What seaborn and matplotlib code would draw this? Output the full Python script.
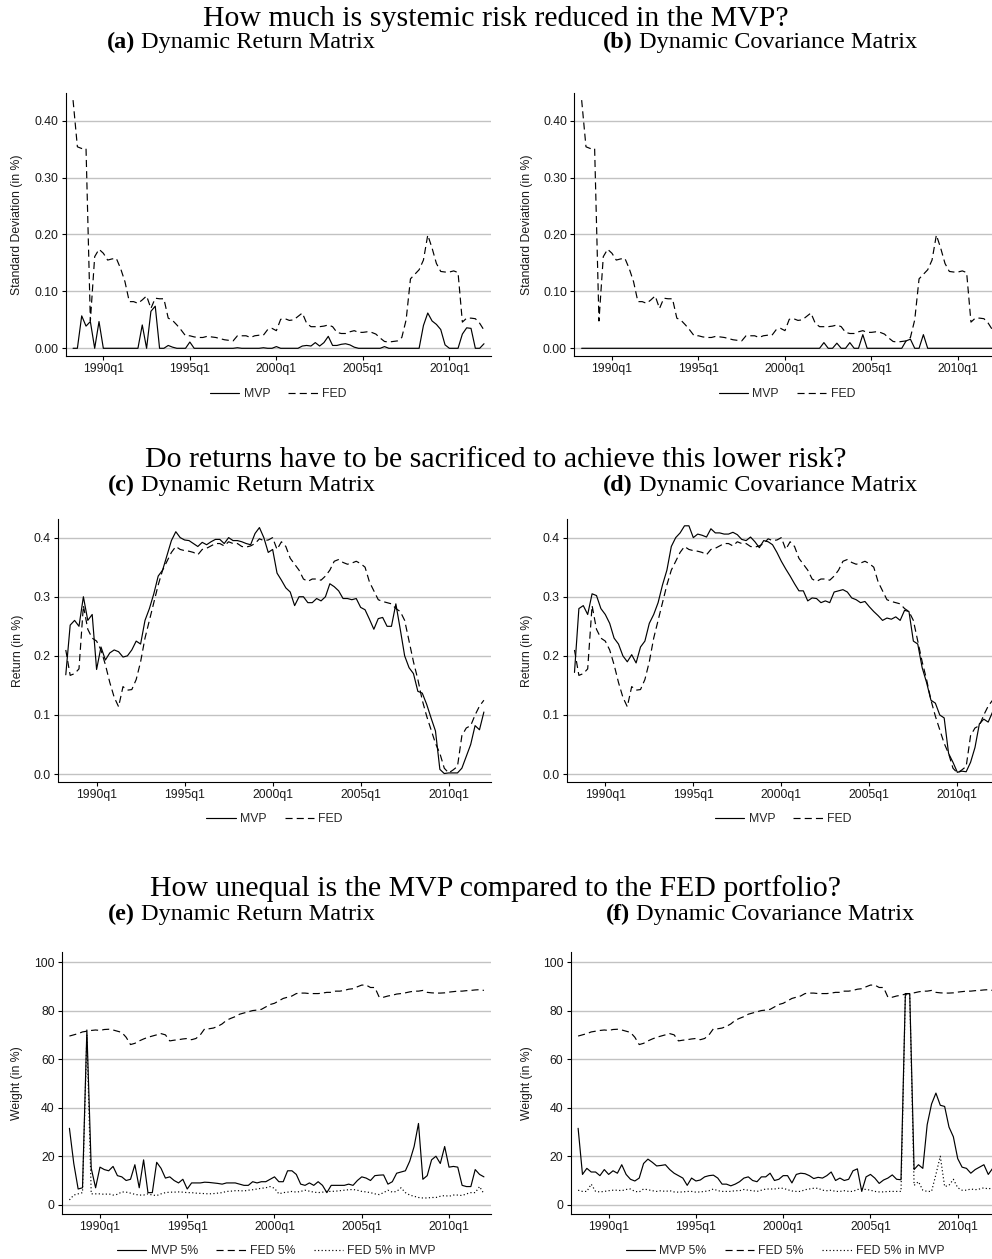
import numpy as np
import pandas as pd
import matplotlib
matplotlib.use("Agg")
import matplotlib.pyplot as plt
from matplotlib.lines import Line2D
from matplotlib.offsetbox import TextArea, HPacker, AnnotationBbox
import seaborn as sns

# ---------------------------------------------------------------- data
quarters = pd.period_range("1988Q2", "2012Q1", freq="Q")
tick_quarters = ["1990Q1", "1995Q1", "2000Q1", "2005Q1", "2010Q1"]

# Standard deviation (in %)
std_mvp_ret = [
    0, 0, 0.057, 0.039, 0.047, 0, 0.047, 0,
    0, 0, 0, 0, 0, 0, 0, 0,
    0.041, 0, 0.065, 0.074, 0, 0, 0.005, 0.002,
    0, 0, 0, 0.011, 0, 0, 0, 0,
    0, 0, 0, 0, 0, 0, 0.001, 0,
    0, 0, 0, 0, 0.001, 0, 0, 0.003,
    0, 0, 0, 0, 0, 0.004, 0.005, 0.004,
    0.010, 0.004, 0.010, 0.021, 0.005, 0.005, 0.007, 0.008,
    0.006, 0.002, 0, 0, 0, 0, 0, 0,
    0.003, 0, 0, 0, 0, 0, 0, 0,
    0, 0.040, 0.062, 0.048, 0.042, 0.033, 0.006, 0,
    0, 0, 0.025, 0.036, 0.035, 0, 0, 0.008,
]
std_mvp_cov = [
    0, 0, 0, 0, 0, 0, 0, 0,
    0, 0, 0, 0, 0, 0, 0, 0,
    0, 0, 0, 0, 0, 0, 0, 0,
    0, 0, 0, 0, 0, 0, 0, 0,
    0, 0, 0, 0, 0, 0, 0, 0,
    0, 0, 0, 0, 0, 0, 0, 0,
    0, 0, 0, 0, 0, 0, 0, 0,
    0.010, 0, 0, 0.009, 0, 0, 0.010, 0,
    0, 0.024, 0, 0, 0, 0, 0, 0,
    0, 0, 0, 0.013, 0.016, 0, 0, 0.024,
    0, 0, 0, 0, 0, 0, 0, 0,
    0, 0, 0, 0, 0, 0, 0, 0,
]
std_fed = [
    0.436, 0.354, 0.351, 0.351, 0.048, 0.161, 0.174, 0.167,
    0.155, 0.157, 0.158, 0.140, 0.117, 0.082, 0.082, 0.079,
    0.085, 0.092, 0.070, 0.088, 0.087, 0.087, 0.053, 0.049,
    0.041, 0.032, 0.022, 0.022, 0.020, 0.019, 0.019, 0.021,
    0.020, 0.019, 0.017, 0.015, 0.014, 0.013, 0.022, 0.022,
    0.022, 0.019, 0.022, 0.023, 0.023, 0.033, 0.035, 0.031,
    0.051, 0.052, 0.049, 0.050, 0.056, 0.062, 0.044, 0.038,
    0.038, 0.038, 0.039, 0.041, 0.038, 0.028, 0.026, 0.026,
    0.029, 0.031, 0.028, 0.028, 0.029, 0.028, 0.025, 0.018,
    0.012, 0.011, 0.012, 0.013, 0.019, 0.050, 0.122, 0.130,
    0.138, 0.155, 0.199, 0.176, 0.149, 0.135, 0.134, 0.134,
    0.136, 0.133, 0.046, 0.053, 0.053, 0.052, 0.044, 0.032,
]

# Return (in %)
ret_mvp_ret = [
    0.168, 0.252, 0.260, 0.250, 0.300, 0.260, 0.270, 0.177,
    0.215, 0.193, 0.205, 0.210, 0.207, 0.198, 0.200, 0.210,
    0.225, 0.220, 0.260, 0.280, 0.305, 0.335, 0.345, 0.370,
    0.395, 0.410, 0.400, 0.396, 0.395, 0.390, 0.385, 0.392,
    0.388, 0.393, 0.397, 0.397, 0.390, 0.400, 0.395, 0.395,
    0.393, 0.390, 0.388, 0.407, 0.417, 0.400, 0.375, 0.380,
    0.340, 0.328, 0.315, 0.308, 0.285, 0.300, 0.300, 0.290,
    0.290, 0.297, 0.293, 0.300, 0.322, 0.317, 0.310, 0.297,
    0.297, 0.295, 0.297, 0.282, 0.278, 0.262, 0.245, 0.263,
    0.265, 0.250, 0.250, 0.288, 0.245, 0.200, 0.180, 0.170,
    0.140, 0.137, 0.118, 0.095, 0.073, 0.008, 0.001, 0.002,
    0.002, 0.002, 0.010, 0.030, 0.050, 0.082, 0.075, 0.105,
]
ret_mvp_cov = [
    0.172, 0.280, 0.285, 0.270, 0.305, 0.302, 0.280, 0.270,
    0.255, 0.230, 0.220, 0.200, 0.190, 0.202, 0.188, 0.215,
    0.225, 0.255, 0.270, 0.290, 0.320, 0.345, 0.385, 0.400,
    0.408, 0.420, 0.420, 0.400, 0.406, 0.404, 0.401, 0.415,
    0.408, 0.408, 0.406, 0.406, 0.409, 0.405, 0.397, 0.395,
    0.401, 0.393, 0.383, 0.395, 0.393, 0.388, 0.375, 0.360,
    0.347, 0.335, 0.322, 0.310, 0.310, 0.293, 0.298, 0.297,
    0.290, 0.293, 0.290, 0.308, 0.310, 0.312, 0.308, 0.298,
    0.295, 0.290, 0.292, 0.283, 0.275, 0.268, 0.260, 0.264,
    0.262, 0.266, 0.260, 0.277, 0.275, 0.225, 0.220, 0.180,
    0.155, 0.125, 0.120, 0.100, 0.095, 0.035, 0.020, 0.003,
    0.005, 0.004, 0.020, 0.045, 0.085, 0.093, 0.088, 0.105,
]
ret_fed = [
    0.210, 0.167, 0.170, 0.178, 0.285, 0.245, 0.230, 0.225,
    0.210, 0.185, 0.155, 0.130, 0.114, 0.148, 0.142, 0.143,
    0.160, 0.190, 0.230, 0.260, 0.290, 0.320, 0.345, 0.360,
    0.375, 0.385, 0.380, 0.378, 0.377, 0.375, 0.371, 0.380,
    0.382, 0.386, 0.390, 0.390, 0.386, 0.393, 0.390, 0.390,
    0.385, 0.384, 0.386, 0.390, 0.398, 0.395, 0.396, 0.400,
    0.380, 0.393, 0.385, 0.365, 0.355, 0.345, 0.330, 0.326,
    0.330, 0.330, 0.328, 0.335, 0.345, 0.360, 0.363, 0.358,
    0.355, 0.357, 0.360, 0.356, 0.350, 0.325, 0.310, 0.295,
    0.292, 0.290, 0.288, 0.280, 0.275, 0.260, 0.225, 0.190,
    0.160, 0.125, 0.098, 0.075, 0.052, 0.035, 0.010, 0.002,
    0.007, 0.013, 0.065, 0.078, 0.082, 0.100, 0.115, 0.125,
]

# Weight of the largest 5% of banks (in %)
w_fed = [
    69.5, 70.0, 70.5, 71.2, 71.5, 71.8, 72.0, 71.8,
    72.2, 72.3, 72.0, 71.5, 71.0, 69.0, 66.0, 66.5,
    67.5, 68.3, 69.0, 69.5, 70.0, 70.5, 70.0, 67.5,
    67.8, 68.0, 68.3, 68.5, 68.0, 68.5, 70.0, 72.5,
    72.5, 72.8, 73.5, 74.5, 76.0, 76.8, 77.5, 78.5,
    79.0, 79.5, 80.0, 80.2, 80.5, 81.5, 82.5, 83.0,
    84.0, 85.0, 85.5, 86.0, 87.0, 87.2, 87.2, 87.0,
    87.0, 87.0, 87.2, 87.5, 87.5, 88.0, 88.0, 88.3,
    88.8, 89.0, 89.8, 90.5, 90.5, 89.5, 89.5, 85.5,
    85.5, 86.0, 86.3, 86.8, 87.0, 87.3, 87.7, 88.0,
    88.0, 88.3, 87.5, 87.3, 87.2, 87.2, 87.3, 87.6,
    87.8, 88.0, 88.0, 88.2, 88.3, 88.5, 88.6, 88.3,
]
w_mvp_ret = [
    31.5, 17.0, 6.5, 7.0, 72.0, 15.0, 7.0, 15.5,
    14.5, 14.0, 15.8, 12.0, 11.5, 10.0, 10.5, 16.5,
    7.0, 18.5, 5.0, 5.0, 17.5, 15.0, 11.0, 11.5,
    10.0, 9.0, 10.5, 6.5, 9.0, 9.0, 9.0, 9.3,
    9.2, 9.0, 8.8, 8.5, 9.0, 9.0, 9.0, 8.5,
    8.0, 8.0, 9.5, 9.0, 9.5, 9.5, 10.5, 11.5,
    9.5, 9.5, 14.0, 14.0, 12.5, 8.5, 8.0, 9.0,
    8.0, 9.5, 8.0, 5.0, 8.0, 8.0, 8.0, 8.0,
    8.5, 8.0, 10.0, 11.5, 11.0, 10.0, 12.0, 12.2,
    12.3, 8.5, 9.5, 13.0, 13.5, 14.0, 18.0, 24.0,
    33.5, 10.5, 12.0, 18.5, 20.0, 17.0, 24.0, 15.5,
    15.8, 15.5, 8.0, 7.5, 7.5, 14.5, 12.5, 11.5,
]
w_fed_in_mvp_ret = [
    2.0, 4.0, 4.5, 5.0, 70.0, 4.5, 4.5, 4.5,
    4.3, 4.5, 4.0, 4.3, 5.3, 5.2, 4.8, 4.3,
    4.0, 4.0, 4.5, 4.0, 3.8, 4.5, 5.0, 5.2,
    5.2, 5.3, 5.2, 5.0, 5.0, 4.8, 4.7, 4.6,
    4.5, 4.6, 4.8, 5.0, 5.5, 5.6, 5.8, 5.8,
    5.7, 6.0, 6.2, 6.5, 6.8, 7.0, 7.5, 6.8,
    4.5, 5.0, 5.2, 5.5, 5.2, 5.5, 6.0, 5.6,
    5.2, 5.0, 5.2, 5.5, 5.5, 5.6, 5.8, 6.0,
    6.2, 6.3, 6.0, 5.5, 5.3, 5.0, 4.5, 4.2,
    5.0, 6.0, 5.2, 5.5, 7.0, 5.0, 4.0, 3.5,
    3.0, 2.8, 2.8, 3.0, 3.0, 3.5, 3.8, 3.5,
    4.0, 4.0, 3.8, 4.5, 5.0, 5.0, 7.5, 4.5,
]
w_mvp_cov = [
    31.5, 12.5, 15.0, 13.5, 13.5, 12.0, 14.5, 12.5,
    14.0, 13.0, 16.5, 12.5, 10.5, 9.8, 11.0, 17.0,
    18.8, 17.5, 16.0, 16.2, 16.5, 14.5, 13.0, 12.0,
    11.0, 8.0, 11.0, 9.8, 10.2, 11.5, 12.0, 12.2,
    11.0, 8.5, 8.5, 7.8, 8.5, 9.5, 11.0, 11.5,
    10.0, 9.5, 11.5, 11.5, 13.0, 10.0, 10.5, 12.0,
    12.0, 9.0, 12.5, 13.0, 12.8, 12.0, 10.8, 11.3,
    11.0, 12.0, 13.5, 10.0, 11.0, 10.0, 10.5, 14.0,
    14.8, 5.5, 11.5, 12.5, 11.0, 8.8, 10.2, 11.0,
    12.3, 10.5, 10.3, 87.0, 87.0, 14.5, 16.5, 15.0,
    33.0, 41.5, 46.0, 41.0, 40.5, 32.0, 28.0, 19.0,
    15.5, 15.0, 13.0, 14.5, 15.5, 16.5, 12.5, 15.0,
]
w_fed_in_mvp_cov = [
    6.0, 5.5, 5.5, 8.5, 5.5, 5.3, 5.5, 5.8,
    6.0, 6.0, 5.8, 6.3, 6.5, 5.5, 5.3, 6.5,
    6.2, 5.8, 5.5, 5.8, 5.5, 5.8, 5.3, 5.2,
    5.3, 5.5, 5.5, 5.2, 5.3, 5.5, 5.8, 6.5,
    5.8, 5.5, 5.5, 5.5, 5.8, 5.8, 6.3, 6.0,
    5.8, 5.5, 6.0, 6.5, 6.5, 6.5, 6.8, 6.8,
    6.2, 5.7, 5.5, 5.5, 6.2, 6.5, 6.8, 6.8,
    6.0, 5.8, 6.0, 5.5, 5.5, 5.8, 5.5, 5.5,
    6.3, 6.5, 6.3, 6.0, 5.5, 5.3, 5.3, 5.5,
    5.5, 5.5, 5.5, 86.5, 86.5, 8.0, 9.5, 6.0,
    5.5, 5.5, 12.5, 20.0, 7.5, 8.0, 10.5, 7.0,
    6.0, 6.0, 6.5, 6.2, 6.5, 7.0, 6.5, 7.0,
]

row_titles = [
    "How much is systemic risk reduced in the MVP?",
    "Do returns have to be sacrificed to achieve this lower risk?",
    "How unequal is the MVP compared to the FED portfolio?",
]
panel_tags = ["(a)", "(b)", "(c)", "(d)", "(e)", "(f)"]
panel_names = ["Dynamic Return Matrix", "Dynamic Covariance Matrix"]

# ---------------------------------------------------------------- style
sns.set_theme(style="white")
plt.rcParams["font.family"] = ["Liberation Sans", "DejaVu Sans"]
plt.rcParams["axes.linewidth"] = 0.8
SERIF = ["Liberation Serif", "DejaVu Serif"]
TICK_FS = 8.8
TITLE_FS = 21.5
SUB_FS = 17.5

W, H = 992, 1259
fig = plt.figure(figsize=(W / 100, H / 100), dpi=100)
fig.patch.set_facecolor("white")

x = np.arange(len(quarters))
qlabels = [f"{p.year}q{p.quarter}" for p in quarters]
tick_pos = [qlabels.index(t.replace("Q", "q")) for t in tick_quarters]
tick_lab = [qlabels[i] for i in tick_pos]

DASHES = {"solid": "", "dash": (6, 3.5), "dot": (1, 2)}
LS = {"solid": "-", "dash": (0, (6, 3.5)), "dot": (0, (1, 2))}


def px_rect(left, top, width, bottom):
    return [left / W, 1 - bottom / H, width / W, (bottom - top) / H]


def draw_panel(rect, series, ylim, yticks, yfmt, ylabel, ylabel_x, legend_y):
    ax = fig.add_axes(rect)
    names = [s[0] for s in series]
    df = pd.DataFrame({
        "t": np.tile(x, len(series)),
        "value": np.concatenate([np.asarray(s[1], dtype=float) for s in series]),
        "series": np.repeat(names, len(x)),
    })
    sns.lineplot(data=df, x="t", y="value", style="series", style_order=names,
                 dashes={s[0]: DASHES[s[2]] for s in series}, color="black",
                 linewidth=0.85, errorbar=None, legend=False, ax=ax)
    ax.set_xlim(-1.7, 96.55)
    ax.set_ylim(*ylim)
    ax.set_yticks(yticks)
    ax.set_yticklabels([yfmt.format(v) for v in yticks])
    ax.set_xticks(tick_pos)
    ax.set_xticklabels(tick_lab)
    ax.set_xlabel("")
    ax.set_ylabel("")
    ax.yaxis.grid(True, color="#c2c2c2", linewidth=1.0)
    ax.xaxis.grid(False)
    ax.set_axisbelow(True)
    sns.despine(ax=ax)
    for sp in ("left", "bottom"):
        ax.spines[sp].set_color("black")
        ax.spines[sp].set_linewidth(0.8)
    ax.tick_params(axis="both", which="major", direction="out", length=3,
                   width=0.8, color="black", labelsize=TICK_FS,
                   labelcolor="#1a1a1a", pad=2.3, left=True, bottom=True)
    top_px = (1 - rect[1] - rect[3]) * H
    bot_px = (1 - rect[1]) * H
    fig.text(ylabel_x / W, 1 - ((top_px + bot_px) / 2) / H,
             ylabel, rotation=90, ha="center", va="center",
             fontsize=TICK_FS, color="#1a1a1a")
    handles = [Line2D([], [], color="black", linewidth=0.85, linestyle=LS[s[2]])
               for s in series]
    cx = rect[0] + rect[2] / 2
    ax.legend(handles, names, loc="center", bbox_to_anchor=(cx, 1 - legend_y / H),
              bbox_transform=fig.transFigure, ncol=len(series), frameon=False,
              fontsize=TICK_FS, handlelength=2.4, handletextpad=0.35,
              columnspacing=1.5, borderpad=0, borderaxespad=0)
    return ax


def subtitle(cx, cy, tag, name, size=SUB_FS):
    box = HPacker(children=[
        TextArea(tag, textprops=dict(family=SERIF, fontsize=size, fontweight="bold", color="black")),
        TextArea(name, textprops=dict(family=SERIF, fontsize=size, color="black")),
    ], align="baseline", pad=0, sep=4.5)
    ab = AnnotationBbox(box, (cx / W, 1 - cy / H), xycoords="figure fraction",
                        box_alignment=(0.5, 0.5), frameon=False, pad=0)
    fig.add_artist(ab)


# rows: title y, subtitle y, axes top/bottom, legend y, panel lefts and width (pixels)
rows = [
    dict(ty=18.5, sy=42, top=93.3, bot=355.7, leg=394, lefts=(65.7, 574.3), width=425.0),
    dict(ty=460, sy=485, top=519.3, bot=781.5, leg=819, lefts=(58.3, 567.0), width=432.4),
    dict(ty=888.5, sy=914, top=952.3, bot=1214.0, leg=1251.5, lefts=(62.0, 570.7), width=428.7),
]

for r, row in enumerate(rows):
    fig.text(0.5, 1 - row["ty"] / H, row_titles[r], ha="center", va="center",
             family=SERIF, fontsize=TITLE_FS, color="black")
    subtitle(241, row["sy"], panel_tags[2 * r], panel_names[0])
    subtitle(760, row["sy"], panel_tags[2 * r + 1], panel_names[1])

# Row 1: standard deviation
rect = px_rect(rows[0]["lefts"][0], rows[0]["top"], rows[0]["width"], rows[0]["bot"])
draw_panel(rect, [("MVP", std_mvp_ret, "solid"), ("FED", std_fed, "dash")],
           (-0.013, 0.448), [0.0, 0.1, 0.2, 0.3, 0.4], "{:.2f}",
           "Standard Deviation (in %)", 17, rows[0]["leg"])
rect = px_rect(rows[0]["lefts"][1], rows[0]["top"], rows[0]["width"], rows[0]["bot"])
draw_panel(rect, [("MVP", std_mvp_cov, "solid"), ("FED", std_fed, "dash")],
           (-0.013, 0.448), [0.0, 0.1, 0.2, 0.3, 0.4], "{:.2f}",
           "Standard Deviation (in %)", 527, rows[0]["leg"])

# Row 2: returns
rect = px_rect(rows[1]["lefts"][0], rows[1]["top"], rows[1]["width"], rows[1]["bot"])
draw_panel(rect, [("MVP", ret_mvp_ret, "solid"), ("FED", ret_fed, "dash")],
           (-0.0125, 0.431), [0.0, 0.1, 0.2, 0.3, 0.4], "{:.1f}",
           "Return (in %)", 17.5, rows[1]["leg"])
rect = px_rect(rows[1]["lefts"][1], rows[1]["top"], rows[1]["width"], rows[1]["bot"])
draw_panel(rect, [("MVP", ret_mvp_cov, "solid"), ("FED", ret_fed, "dash")],
           (-0.0125, 0.431), [0.0, 0.1, 0.2, 0.3, 0.4], "{:.1f}",
           "Return (in %)", 527, rows[1]["leg"])

# Row 3: weights
rect = px_rect(rows[2]["lefts"][0], rows[2]["top"], rows[2]["width"], rows[2]["bot"])
draw_panel(rect, [("MVP 5%", w_mvp_ret, "solid"), ("FED 5%", w_fed, "dash"),
                  ("FED 5% in MVP", w_fed_in_mvp_ret, "dot")],
           (-3.8, 104), [0, 20, 40, 60, 80, 100], "{:.0f}",
           "Weight (in %)", 17.3, rows[2]["leg"])
rect = px_rect(rows[2]["lefts"][1], rows[2]["top"], rows[2]["width"], rows[2]["bot"])
draw_panel(rect, [("MVP 5%", w_mvp_cov, "solid"), ("FED 5%", w_fed, "dash"),
                  ("FED 5% in MVP", w_fed_in_mvp_cov, "dot")],
           (-3.8, 104), [0, 20, 40, 60, 80, 100], "{:.0f}",
           "Weight (in %)", 527, rows[2]["leg"])

fig.savefig("out.png", dpi=100, facecolor="white")
